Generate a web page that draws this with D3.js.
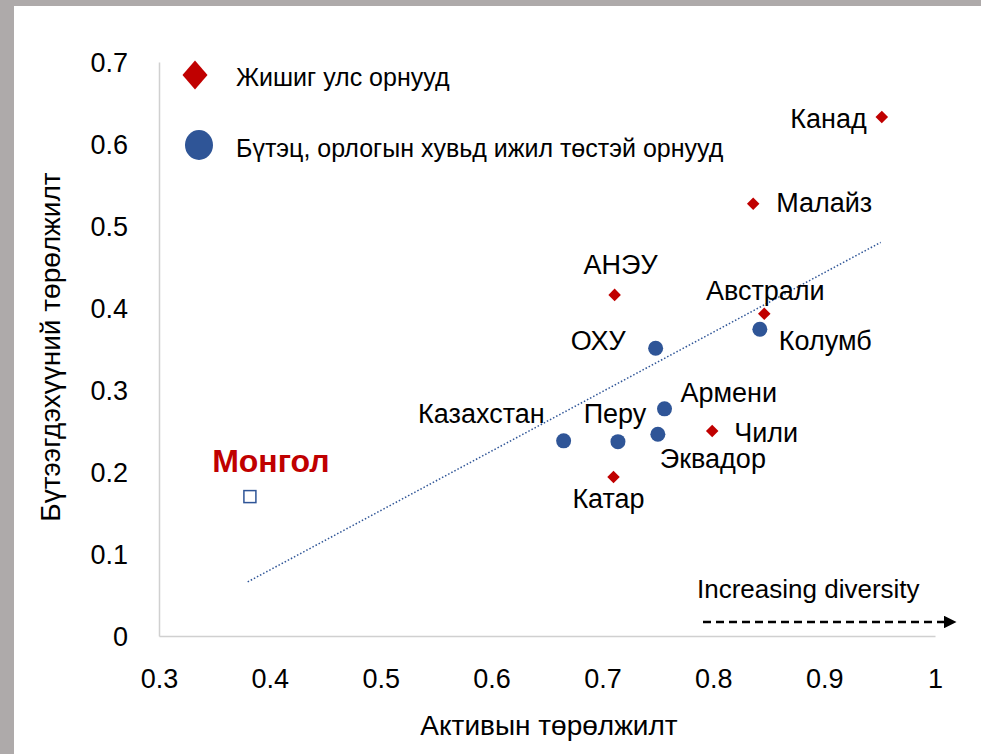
<!DOCTYPE html>
<html>
<head>
<meta charset="utf-8">
<script src="https://cdn.jsdelivr.net/npm/d3@7"></script>
<style>
  body { margin: 0; background: #aeaaaa; }
  #chart { position: absolute; left: 14px; top: 6px; width: 967px; height: 748px; background: #fff; }
  text { font-family: "Liberation Sans", Arial, sans-serif; fill: #000; }
</style>
</head>
<body>
<div id="chart"></div>
<script>
// reference countries (red diamonds)
var refNames = ["Канад", "Малайз", "АНЭУ", "Австрали", "Чили", "Катар"];
var refX = [0.952, 0.836, 0.711, 0.846, 0.799, 0.710];
var refY = [0.633, 0.527, 0.416, 0.393, 0.250, 0.194];

// similar structure / income countries (blue circles)
var simNames = ["Колумб", "ОХУ", "Армени", "Перу", "Казахстан", "Эквадор"];
var simX = [0.842, 0.748, 0.756, 0.714, 0.665, 0.750];
var simY = [0.374, 0.351, 0.277, 0.237, 0.238, 0.246];

// Mongolia
var mglName = "Монгол";
var mglX = 0.382, mglY = 0.170;

// linear trend line end points
var trendX = [0.380, 0.951];
var trendY = [0.066, 0.480];

var xTicks = [0.3, 0.4, 0.5, 0.6, 0.7, 0.8, 0.9, 1];
var yTicks = [0, 0.1, 0.2, 0.3, 0.4, 0.5, 0.6, 0.7];

var legendLabels = ["Жишиг улс орнууд", "Бүтэц, орлогын хувьд ижил төстэй орнууд"];

// label offsets (dx, dy, anchor) relative to the marker
var refLabelPos = [[-15, 11, "end"], [23, 8, "start"], [6, -21, "middle"], [1, -14, "middle"], [22, 11, "start"], [-5, 31, "middle"]];
var simLabelPos = [[19, 21, "start"], [-30, 2, "end"], [16, -7, "start"], [-3, -19, "middle"], [-19, -18, "end"], [2, 34, "start"]];

var margin = { top: 56, right: 46, bottom: 118, left: 145 };
var W = 967, H = 748;
var width = W - margin.left - margin.right;
var height = H - margin.top - margin.bottom;

var svg = d3.select("#chart").append("svg")
    .attr("width", W)
    .attr("height", H);

var g = svg.append("g")
    .attr("transform", "translate(" + margin.left + "," + margin.top + ")");

var x = d3.scaleLinear().domain([0.3, 1]).range([0, width]);
var y = d3.scaleLinear().domain([0, 0.7]).range([height, 0]);

// axes
var xAxis = g.append("g")
    .attr("transform", "translate(0," + height + ")")
    .call(d3.axisBottom(x).tickValues(xTicks).tickSize(0).tickPadding(33).tickFormat(d3.format("")));
var yAxis = g.append("g")
    .call(d3.axisLeft(y).tickValues(yTicks).tickSize(0).tickPadding(31).tickFormat(d3.format("")));

[xAxis, yAxis].forEach(function(a) {
  a.select(".domain").attr("stroke", "#d0d0d0").attr("stroke-width", 1.5);
  a.selectAll("text").style("font-size", "27px").attr("fill", "#000");
});
yAxis.selectAll("text").attr("dy", "0.35em");

// axis titles
svg.append("text")
    .attr("x", margin.left + x(0.65) + 2)
    .attr("y", 729)
    .attr("text-anchor", "middle")
    .style("font-size", "28px")
    .text("Активын төрөлжилт");

svg.append("text")
    .attr("transform", "translate(46," + (margin.top + y(0.35) - 2) + ") rotate(-90)")
    .attr("text-anchor", "middle")
    .style("font-size", "28px")
    .text("Бүтээгдэхүүний төрөлжилт");

// trend line
g.append("line")
    .attr("x1", x(trendX[0])).attr("y1", y(trendY[0]))
    .attr("x2", x(trendX[1])).attr("y2", y(trendY[1]))
    .attr("stroke", "#2f5597")
    .attr("stroke-width", 1.5)
    .attr("stroke-dasharray", "1.5,2");

var diamond = d3.symbol().type(d3.symbolDiamond2);

// reference countries
refX.forEach(function(v, i) {
  g.append("path")
    .attr("d", diamond.size(100)())
    .attr("transform", "translate(" + x(v) + "," + y(refY[i]) + ")")
    .attr("fill", "#c00000");
  g.append("text")
    .attr("x", x(v) + refLabelPos[i][0])
    .attr("y", y(refY[i]) + refLabelPos[i][1])
    .attr("text-anchor", refLabelPos[i][2])
    .style("font-size", "27px")
    .text(refNames[i]);
});

// similar countries
simX.forEach(function(v, i) {
  g.append("circle")
    .attr("cx", x(v))
    .attr("cy", y(simY[i]))
    .attr("r", 7.5)
    .attr("fill", "#2f5597");
  g.append("text")
    .attr("x", x(v) + simLabelPos[i][0])
    .attr("y", y(simY[i]) + simLabelPos[i][1])
    .attr("text-anchor", simLabelPos[i][2])
    .style("font-size", "27px")
    .text(simNames[i]);
});

// Mongolia
g.append("rect")
    .attr("x", x(mglX) - 6)
    .attr("y", y(mglY) - 6)
    .attr("width", 12)
    .attr("height", 12)
    .attr("fill", "#fff")
    .attr("stroke", "#2f5597")
    .attr("stroke-width", 1.5);
g.append("text")
    .attr("x", x(mglX) + 21)
    .attr("y", y(mglY) - 25)
    .attr("text-anchor", "middle")
    .style("font-size", "32px")
    .style("font-weight", "bold")
    .style("fill", "#c00000")
    .text(mglName);

// legend
var legend = svg.append("g");
legend.append("path")
    .attr("d", diamond.size(400)())
    .attr("transform", "translate(181,69) scale(1,1.15)")
    .attr("fill", "#c00000");
legend.append("ellipse")
    .attr("cx", 185).attr("cy", 139)
    .attr("rx", 14).attr("ry", 15)
    .attr("fill", "#2f5597");
legendLabels.forEach(function(t, i) {
  legend.append("text")
    .attr("x", 222)
    .attr("y", 80 + i * 71)
    .style("font-size", "25px")
    .text(t);
});

// increasing diversity arrow
var defs = svg.append("defs");
defs.append("marker")
    .attr("id", "arrow")
    .attr("viewBox", "0 0 10 10")
    .attr("refX", 0).attr("refY", 5)
    .attr("markerWidth", 5).attr("markerHeight", 5)
    .attr("orient", "auto")
    .append("path")
    .attr("d", "M0,0L10,5L0,10Z")
    .attr("fill", "#000");

svg.append("line")
    .attr("x1", 689).attr("y1", 616)
    .attr("x2", 930).attr("y2", 616)
    .attr("stroke", "#000")
    .attr("stroke-width", 2.5)
    .attr("stroke-dasharray", "8,5")
    .attr("marker-end", "url(#arrow)");

svg.append("text")
    .attr("x", 683)
    .attr("y", 592)
    .style("font-size", "26px")
    .text("Increasing diversity");
</script>
</body>
</html>
